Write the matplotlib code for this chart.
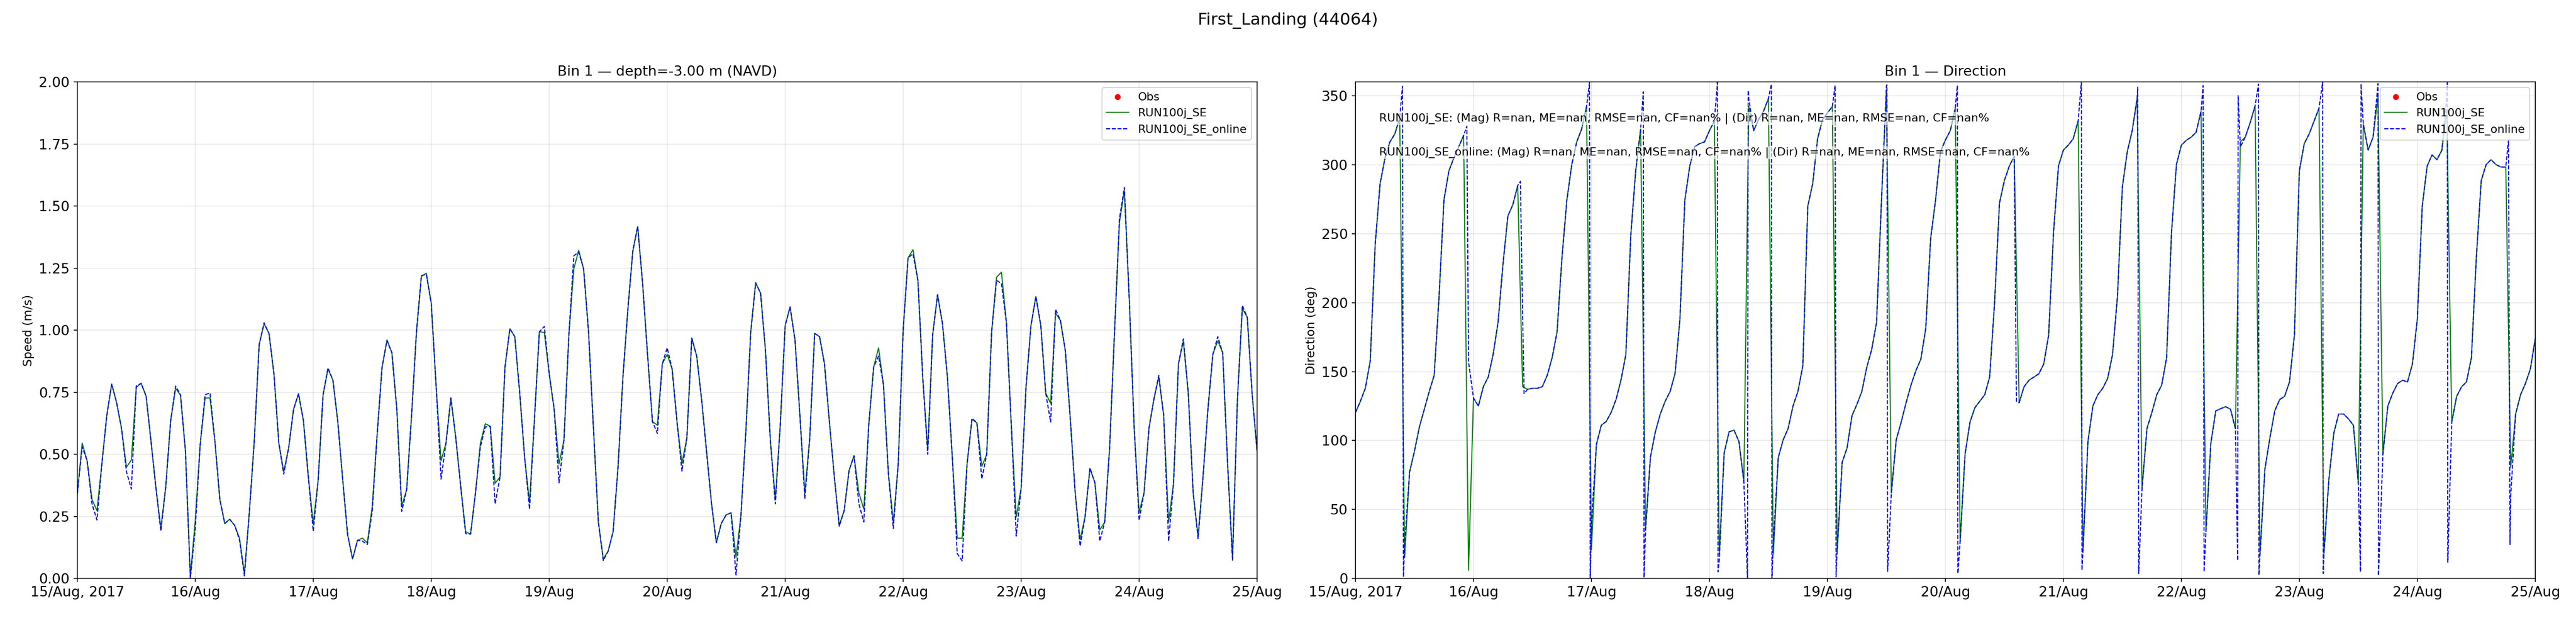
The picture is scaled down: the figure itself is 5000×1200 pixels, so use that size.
import pandas as pd
import matplotlib
matplotlib.use("Agg")
import matplotlib.pyplot as plt
import matplotlib.dates as mdates
from matplotlib.ticker import FuncFormatter

station = "First_Landing (44064)"
start = "2017-08-15 00:00"
hours = pd.date_range(start, "2017-08-25 00:00", freq="h")

# speed (m/s), hourly
speed_se = [
    0.34, 0.545, 0.474, 0.318, 0.273, 0.461, 0.656, 0.783, 0.708, 0.604, 0.448, 0.477,
    0.770, 0.786, 0.734, 0.552, 0.364, 0.201, 0.370, 0.636, 0.766, 0.738, 0.513, 0.006,
    0.234, 0.539, 0.727, 0.727, 0.552, 0.318, 0.221, 0.238, 0.214, 0.162, 0.019, 0.266,
    0.552, 0.942, 1.026, 0.987, 0.825, 0.545, 0.429, 0.526, 0.682, 0.744, 0.636, 0.409,
    0.221, 0.396, 0.740, 0.844, 0.799, 0.630, 0.396, 0.175, 0.078, 0.153, 0.162, 0.143,
    0.29, 0.58, 0.851, 0.961, 0.909, 0.682, 0.292, 0.357, 0.656, 0.994, 1.217, 1.230,
    1.110, 0.773, 0.474, 0.545, 0.727, 0.565, 0.370, 0.188, 0.178, 0.344, 0.545, 0.623,
    0.613, 0.383, 0.409, 0.851, 1.006, 0.974, 0.747, 0.487, 0.305, 0.643, 0.994, 0.991,
    0.825, 0.682, 0.461, 0.558, 0.981, 1.247, 1.322, 1.247, 0.994, 0.604, 0.227, 0.078,
    0.110, 0.188, 0.448, 0.812, 1.084, 1.318, 1.418, 1.188, 0.903, 0.632, 0.617, 0.864,
    0.903, 0.844, 0.630, 0.464, 0.565, 0.968, 0.896, 0.721, 0.513, 0.305, 0.143, 0.221,
    0.256, 0.264, 0.084, 0.253, 0.591, 0.994, 1.191, 1.149, 0.916, 0.552, 0.318, 0.617,
    1.019, 1.094, 0.961, 0.656, 0.344, 0.565, 0.987, 0.974, 0.864, 0.630, 0.409, 0.214,
    0.273, 0.435, 0.494, 0.344, 0.279, 0.617, 0.851, 0.929, 0.779, 0.422, 0.227, 0.461,
    1.000, 1.292, 1.325, 1.201, 0.805, 0.519, 0.981, 1.143, 1.026, 0.812, 0.487, 0.162,
    0.162, 0.46, 0.640, 0.627, 0.451, 0.500, 0.994, 1.214, 1.234, 1.032, 0.617, 0.247,
    0.364, 0.773, 1.019, 1.136, 1.019, 0.747, 0.705, 1.069, 1.039, 0.916, 0.643, 0.344,
    0.156, 0.247, 0.442, 0.386, 0.195, 0.227, 0.526, 0.994, 1.435, 1.562, 1.123, 0.604,
    0.266, 0.344, 0.604, 0.721, 0.812, 0.656, 0.227, 0.383, 0.864, 0.955, 0.747, 0.344,
    0.169, 0.409, 0.682, 0.903, 0.957, 0.909, 0.461, 0.084, 0.721, 1.087, 1.052, 0.740,
    0.513,
]
speed_online = [
    0.34, 0.53, 0.474, 0.30, 0.235, 0.461, 0.656, 0.783, 0.708, 0.604, 0.43, 0.36,
    0.775, 0.786, 0.734, 0.552, 0.364, 0.19, 0.370, 0.636, 0.775, 0.74, 0.513, 0.0,
    0.20, 0.539, 0.74, 0.747, 0.552, 0.318, 0.221, 0.238, 0.214, 0.155, 0.01, 0.266,
    0.552, 0.942, 1.03, 0.987, 0.825, 0.545, 0.42, 0.526, 0.682, 0.744, 0.636, 0.409,
    0.19, 0.396, 0.740, 0.848, 0.799, 0.630, 0.396, 0.175, 0.078, 0.153, 0.15, 0.136,
    0.27, 0.58, 0.851, 0.958, 0.909, 0.682, 0.27, 0.357, 0.656, 0.994, 1.22, 1.225,
    1.110, 0.773, 0.40, 0.545, 0.727, 0.565, 0.370, 0.18, 0.178, 0.344, 0.53, 0.61,
    0.613, 0.30, 0.409, 0.851, 1.006, 0.974, 0.747, 0.487, 0.279, 0.643, 0.994, 1.015,
    0.825, 0.682, 0.385, 0.558, 0.981, 1.30, 1.315, 1.247, 0.994, 0.604, 0.227, 0.072,
    0.110, 0.188, 0.448, 0.812, 1.084, 1.318, 1.418, 1.188, 0.903, 0.632, 0.584, 0.864,
    0.929, 0.844, 0.630, 0.432, 0.565, 0.968, 0.896, 0.721, 0.513, 0.305, 0.143, 0.221,
    0.256, 0.264, 0.013, 0.253, 0.591, 0.994, 1.191, 1.149, 0.916, 0.552, 0.30, 0.617,
    1.019, 1.094, 0.961, 0.656, 0.32, 0.565, 0.987, 0.974, 0.864, 0.630, 0.409, 0.21,
    0.273, 0.435, 0.494, 0.30, 0.227, 0.617, 0.851, 0.896, 0.779, 0.422, 0.201, 0.461,
    1.000, 1.292, 1.308, 1.201, 0.805, 0.50, 0.981, 1.143, 1.026, 0.812, 0.487, 0.10,
    0.07, 0.46, 0.645, 0.627, 0.40, 0.500, 0.994, 1.201, 1.188, 1.032, 0.617, 0.17,
    0.364, 0.773, 1.019, 1.136, 1.019, 0.747, 0.63, 1.084, 1.039, 0.916, 0.643, 0.344,
    0.130, 0.247, 0.445, 0.386, 0.15, 0.227, 0.526, 0.994, 1.45, 1.575, 1.123, 0.604,
    0.234, 0.344, 0.604, 0.721, 0.818, 0.656, 0.15, 0.383, 0.864, 0.965, 0.747, 0.344,
    0.16, 0.409, 0.682, 0.903, 0.974, 0.909, 0.461, 0.071, 0.721, 1.100, 1.052, 0.740,
    0.513,
]

# direction (deg), hourly
dir_se = [
    120.3, 128.5, 137.9, 157.7, 241.8, 286.2, 304.9, 316.6, 322.4, 334.1, 15.2, 77.1,
    92.3, 109.8, 122.7, 135.5, 147.2, 204.4, 274.5, 295.6, 304.9, 313.1, 321.3, 5.8,
    130.8, 125.0, 139.0, 146.0, 162.4, 185.7, 227.8, 262.9, 271.0, 285.0, 139.0, 137.1,
    137.9, 137.9, 139.0, 147.2, 160.0, 178.7, 232.5, 274.5, 300.2, 316.6, 325.9, 342.3,
    21.0, 97.0, 111.0, 113.8, 120.3, 129.7, 143.7, 162.4, 248.8, 295.6, 325.9, 36.2,
    88.0, 106.3, 119.2, 128.5, 135.5, 148.4, 188.1, 274.5, 299.1, 313.1, 315.4, 316.6,
    324.8, 331.8, 17.5, 91.1, 106.3, 107.5, 99.3, 70.1, 342.3, 324.8, 333.0, 338.8,
    348.1, 17.5, 87.6, 100.5, 108.6, 125.0, 135.5, 154.2, 269.9, 286.2, 318.9, 332.9,
    337.6, 342.3, 19.9, 84.1, 94.6, 118.0, 126.2, 135.5, 153.0, 165.9, 185.7, 274.5,
    354.0, 61.9, 100.5, 113.3, 127.3, 140.2, 150.7, 158.9, 181.1, 246.5, 274.5, 309.6,
    318.0, 324.8, 341.1, 26.9, 90.0, 113.3, 123.8, 128.5, 133.2, 146.0, 199.8, 272.2,
    288.6, 299.1, 306.1, 127.3, 139.0, 143.7, 146.0, 148.4, 155.4, 176.4, 251.2, 299.1,
    310.7, 314.3, 318.9, 331.8, 19.9, 99.3, 125.0, 133.2, 137.9, 144.9, 162.4, 204.4,
    283.9, 309.6, 324.8, 348.1, 65.4, 108.6, 120.3, 133.2, 140.2, 160.0, 251.2, 300.2,
    314.3, 317.8, 320.1, 323.6, 338.8, 33.9, 98.1, 121.5, 123.1, 124.5, 122.7, 108.6,
    316.6, 320.1, 330.6, 342.8, 17.5, 79.4, 101.6, 121.5, 129.7, 132.0, 142.5, 176.4,
    295.6, 315.4, 322.4, 331.8, 341.1, 17.5, 71.3, 105.1, 119.2, 119.2, 115.7, 111.0,
    68.9, 329.4, 310.7, 320.1, 349.3, 90.0, 125.0, 134.3, 141.4, 143.7, 142.5, 155.4,
    188.1, 269.9, 299.1, 307.2, 303.7, 310.7, 340.0, 113.3, 132.0, 139.0, 142.5, 160.0,
    232.5, 288.6, 300.2, 303.7, 300.2, 298.4, 298.4, 80.6, 119.2, 133.2, 141.4, 151.9,
    174.1,
]
dir_online = [
    120.3, 128.5, 137.9, 157.7, 241.8, 286.2, 304.9, 316.6, 322.4, 334.1, 25.0, 77.1,
    92.3, 109.8, 122.7, 135.5, 147.2, 204.4, 274.5, 295.6, 304.9, 313.1, 321.3, 157.0,
    130.8, 125.0, 139.0, 146.0, 162.4, 185.7, 227.8, 262.9, 271.0, 285.0, 190.0, 137.1,
    137.9, 137.9, 139.0, 147.2, 160.0, 178.7, 232.5, 274.5, 300.2, 316.6, 325.9, 342.3,
    40.0, 97.0, 111.0, 113.8, 120.3, 129.7, 143.7, 162.4, 248.8, 295.6, 325.9, 34.0,
    88.0, 106.3, 119.2, 128.5, 135.5, 148.4, 188.1, 274.5, 299.1, 313.1, 315.4, 316.6,
    324.8, 331.8, 13.0, 91.1, 106.3, 107.5, 99.3, 70.1, 348.0, 324.8, 333.0, 338.8,
    348.1, 27.0, 87.6, 100.5, 108.6, 125.0, 135.5, 154.2, 269.9, 286.2, 318.9, 332.9,
    337.6, 342.3, 22.0, 84.1, 94.6, 118.0, 126.2, 135.5, 153.0, 165.9, 185.7, 274.5,
    357.0, 62.0, 100.5, 113.3, 127.3, 140.2, 150.7, 158.9, 181.1, 246.5, 274.5, 309.6,
    318.0, 324.8, 341.1, 27.0, 90.0, 113.3, 123.8, 128.5, 133.2, 146.0, 199.8, 272.2,
    288.6, 299.1, 306.1, 127.3, 139.0, 143.7, 146.0, 148.4, 155.4, 176.4, 251.2, 299.1,
    310.7, 314.3, 318.9, 331.8, 22.0, 99.3, 125.0, 133.2, 137.9, 144.9, 162.4, 204.4,
    283.9, 309.6, 324.8, 348.1, 65.4, 108.6, 120.3, 133.2, 140.2, 160.0, 251.2, 300.2,
    314.3, 317.8, 320.1, 323.6, 338.8, 34.0, 98.1, 121.5, 123.1, 124.5, 122.7, 108.6,
    313.0, 320.1, 330.6, 342.8, 17.5, 79.4, 101.6, 121.5, 129.7, 132.0, 142.5, 176.4,
    295.6, 315.4, 322.4, 331.8, 341.1, 17.5, 71.3, 105.1, 119.2, 119.2, 115.7, 111.0,
    68.9, 330.0, 310.7, 320.1, 359.0, 90.0, 125.0, 134.3, 141.4, 143.7, 142.5, 155.4,
    188.1, 269.9, 299.1, 307.2, 303.7, 310.7, 350.0, 113.3, 132.0, 139.0, 142.5, 160.0,
    232.5, 288.6, 300.2, 303.7, 300.2, 298.4, 298.4, 60.0, 119.2, 133.2, 141.4, 151.9,
    174.1,
]
# the online run is written more often: extra points where it wraps 360 -> 0
dir_online_extra_h = [9.55, 9.75, 22.65, 33.55, 34.3, 47.6, 47.75, 58.55, 58.7,
                      73.63, 73.75, 79.74, 79.88, 84.6, 84.72, 97.56, 97.76,
                      108.1, 108.25, 122.43, 122.54, 134.45, 147.66, 147.78,
                      159.12, 159.32, 172.43, 172.62, 179.45, 179.55, 183.7, 183.78,
                      196.74, 196.86, 204.43, 204.55, 208.1, 222.1, 222.2,
                      234.55, 234.85]
dir_online_extra_v = [357.0, 1.0, 328.0, 288.0, 134.0, 359.5, 0.5, 353.0, 0.5,
                      359.8, 4.7, 0.5, 354.0, 358.6, 0.5, 357.5, 1.0,
                      358.0, 5.0, 357.5, 3.5, 128.5, 359.8, 5.8,
                      356.3, 3.5, 357.5, 4.7, 12.9, 350.5, 358.6, 2.3,
                      359.8, 3.5, 4.7, 358.6, 2.0, 359.5, 11.7,
                      318.0, 24.5]

stats_lines = [
    "RUN100j_SE: (Mag) R=nan, ME=nan, RMSE=nan, CF=nan% | (Dir) R=nan, ME=nan, RMSE=nan, CF=nan%",
    "RUN100j_SE_online: (Mag) R=nan, ME=nan, RMSE=nan, CF=nan% | (Dir) R=nan, ME=nan, RMSE=nan, CF=nan%",
]

# merge the extra online direction points with the hourly ones
t0 = pd.Timestamp(start)
online_dir = pd.Series(dir_online, index=hours)
extra = pd.Series(dir_online_extra_v,
                  index=[t0 + pd.Timedelta(hours=h) for h in dir_online_extra_h])
online_dir = pd.concat([online_dir, extra]).sort_index()

fig, (ax1, ax2) = plt.subplots(1, 2, figsize=(5000 / 150, 1200 / 150), dpi=150)
fig.subplots_adjust(left=0.03, right=0.9842, bottom=0.0642, top=0.8671, wspace=0.0834)


def day_fmt(x, pos):
    d = mdates.num2date(x)
    if pos == 0:
        return d.strftime("%d/%b, %Y")
    return d.strftime("%d/%b")


# speed
ax1.plot([], [], "ro", ms=4.5, label="Obs")
ax1.plot(hours, speed_se, "g-", lw=1, label="RUN100j_SE")
ax1.plot(hours, speed_online, "b--", lw=1, label="RUN100j_SE_online")
ax1.set_ylim(0, 2)
ax1.set_ylabel("Speed (m/s)", fontsize=11)
ax1.set_title("Bin 1 \u2014 depth=-3.00 m (NAVD)", fontsize=13)
ax1.legend(loc="upper right", fontsize=10.5)

# direction
ax2.plot([], [], "ro", ms=4.5, label="Obs")
ax2.plot(hours, dir_se, "g-", lw=1, label="RUN100j_SE")
ax2.plot(online_dir.index, online_dir.values, "b--", lw=1, label="RUN100j_SE_online")
ax2.set_ylim(0, 360)
ax2.set_ylabel("Direction (deg)", fontsize=11)
ax2.set_title("Bin 1 \u2014 Direction", fontsize=13)
ax2.legend(loc="upper right", fontsize=10.5)
for i, line in enumerate(stats_lines):
    ax2.text(0.02, 0.927 - i * 0.069, line, transform=ax2.transAxes, va="center",
             fontsize=10.6, bbox=dict(facecolor="white", alpha=0.6, edgecolor="none", pad=1))

for ax in (ax1, ax2):
    ax.set_xlim(hours[0], hours[-1])
    ax.xaxis.set_major_locator(mdates.DayLocator())
    ax.xaxis.set_major_formatter(FuncFormatter(day_fmt))
    ax.tick_params(labelsize=13)
    ax.grid(True, alpha=0.3)

fig.suptitle(station, fontsize=15.5)
fig.savefig("out.png", dpi=150)
